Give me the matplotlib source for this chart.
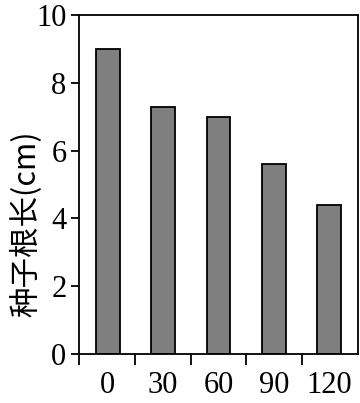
import matplotlib
matplotlib.use("Agg")
import matplotlib.pyplot as plt

# ---------------- DATA ---------------- #
categories = ["0", "30", "60", "90", "120"]
root_length = [9.0, 7.3, 7.0, 5.6, 4.4]
y_ticks = [0, 2, 4, 6, 8, 10]

BAR_COLOR = "#7f7f7f"
SERIF = "Liberation Serif"

fig = plt.figure(figsize=(3.6, 4.03), dpi=100)
ax = fig.add_axes([0.2194, 0.1216, 0.7750, 0.8412])

x = list(range(len(categories)))
ax.bar(x, root_length, width=0.43, color=BAR_COLOR, edgecolor="black", linewidth=1.3)

ax.set_xlim(-0.52, 4.52)
ax.set_ylim(0, 10)

# category labels without tick marks, separators between bars
ax.set_xticks(x)
ax.set_xticklabels(categories, fontfamily=SERIF, fontsize=22)
ax.tick_params(axis="x", which="major", length=0, pad=12)
ax.set_xticks([-0.52, 0.5, 1.5, 2.5, 3.5], minor=True)
ax.tick_params(axis="x", which="minor", length=8, width=1.3, direction="out")

ax.set_yticks(y_ticks)
ax.set_yticklabels([str(v) for v in y_ticks], fontfamily=SERIF, fontsize=22)
ax.tick_params(axis="y", length=6, width=1.3, direction="out", pad=3)

for spine in ax.spines.values():
    spine.set_linewidth(1.3)

ax.set_ylabel("种子根长(cm)", fontfamily=["Noto Sans CJK SC", "DejaVu Sans"], fontsize=22)
ax.yaxis.set_label_coords(-0.13, 0.383)

fig.savefig("out.png", dpi=100)
